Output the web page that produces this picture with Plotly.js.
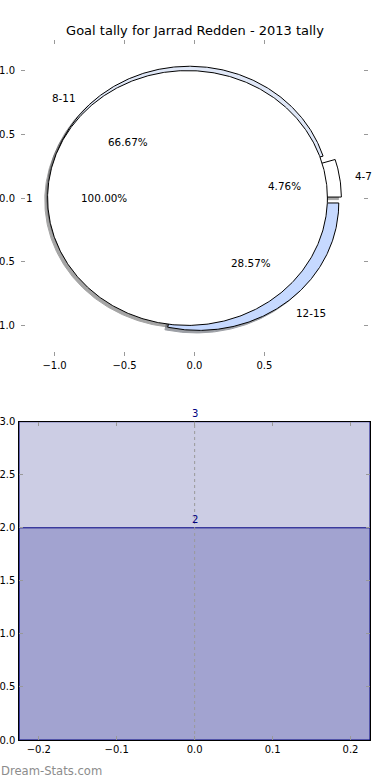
<!DOCTYPE html>
<html><head><meta charset="utf-8">
<script src="https://cdn.plot.ly/plotly-3.0.1.min.js"></script>
<style>html,body{margin:0;padding:0;background:#fff;} #chart{width:390px;height:780px;}</style>
</head><body><div id="chart"></div>
<script>
// ---- data ----
const chartTitle = 'Goal tally for Jarrad Redden - 2013 tally';
const outerLabels = ['4-7', '8-11', '12-15'];
const outerValues = [1, 14, 6];
const outerColors = ['#ffffff', '#dfe7f7', '#c6d9ff'];
const innerLabels = ['1'];
const innerValues = [1];
const innerColors = ['#ffffff'];
const barValues = [3, 2];
const barColors = ['#cccde4', '#a2a3d0'];
const pieXTicks = [-1, -0.5, 0, 0.5];
const pieYTicks = [-1, -0.5, 0, 0.5, 1];
const barXTicks = [-0.2, -0.1, 0, 0.1, 0.2];
const barYTicks = [0, 0.5, 1, 1.5, 2, 2.5, 3];
const watermark = 'Dream-Stats.com';

// ---- pie geometry (matplotlib-like: start 0deg, counter-clockwise, exploded) ----
const R = 1, EXPLODE = 0.05, LABEL_D = 1.1, PCT_D = 0.6, SHX = -0.02, SHY = -0.02;
const FONT = 'DejaVu Sans, Liberation Sans, sans-serif';

function pieGeom(labels, values, colors) {
  const tot = values.reduce((a, b) => a + b, 0);
  let cum = 0;
  return values.map((v, i) => {
    const t1 = cum / tot * 360; cum += v; const t2 = cum / tot * 360;
    const mid = (t1 + t2) / 2 * Math.PI / 180;
    return {
      label: labels[i], pct: (v / tot * 100).toFixed(2) + '%', color: colors[i],
      t1: t1, t2: t2, mid: mid,
      cx: EXPLODE * Math.cos(mid), cy: EXPLODE * Math.sin(mid),
      full: (t2 - t1) >= 359.999
    };
  });
}
function wedgeXY(g, dx, dy) {
  const xs = [], ys = [];
  const cx = g.cx + dx, cy = g.cy + dy;
  if (!g.full) { xs.push(cx); ys.push(cy); }
  const n = Math.max(4, Math.ceil((g.t2 - g.t1) / 0.5));
  for (let k = 0; k <= n; k++) {
    const a = (g.t1 + (g.t2 - g.t1) * k / n) * Math.PI / 180;
    xs.push(cx + R * Math.cos(a)); ys.push(cy + R * Math.sin(a));
  }
  if (!g.full) { xs.push(cx); ys.push(cy); }
  return { xs: xs, ys: ys };
}
function shade(hex) {
  const r = parseInt(hex.slice(1, 3), 16), g = parseInt(hex.slice(3, 5), 16), b = parseInt(hex.slice(5, 7), 16);
  return 'rgb(' + Math.round(r * 0.3) + ',' + Math.round(g * 0.3) + ',' + Math.round(b * 0.3) + ')';
}

const outer = pieGeom(outerLabels, outerValues, outerColors);
const inner = pieGeom(innerLabels, innerValues, innerColors);
const allWedges = outer.concat(inner);

const traces = [];
// shadows first (drawn below all wedges)
allWedges.forEach(g => {
  const p = wedgeXY(g, SHX, SHY);
  traces.push({
    type: 'scatter', mode: 'lines', x: p.xs, y: p.ys, xaxis: 'x', yaxis: 'y',
    fill: 'toself', fillcolor: shade(g.color), line: { color: shade(g.color), width: 1 },
    opacity: 0.5, hoverinfo: 'skip', showlegend: false
  });
});
// wedges
allWedges.forEach(g => {
  const p = wedgeXY(g, 0, 0);
  traces.push({
    type: 'scatter', mode: 'lines', x: p.xs, y: p.ys, xaxis: 'x', yaxis: 'y',
    fill: 'toself', fillcolor: g.color, line: { color: '#000000', width: 1 },
    hoverinfo: 'skip', showlegend: false, name: g.label
  });
});
// bars (overlaid, drawn in order)
barValues.forEach((v, i) => {
  traces.push({
    type: 'bar', x: [0], y: [v], width: 0.45, xaxis: 'x2', yaxis: 'y2',
    marker: { color: barColors[i], line: { color: '#000080', width: 1 } },
    hoverinfo: 'skip', showlegend: false
  });
});

const annotations = [];
allWedges.forEach(g => {
  const lx = g.cx + LABEL_D * R * Math.cos(g.mid), ly = g.cy + LABEL_D * R * Math.sin(g.mid);
  annotations.push({
    x: lx, y: ly, xref: 'x', yref: 'y', text: g.label, showarrow: false,
    xanchor: lx > 0 ? 'left' : 'right', yanchor: 'middle', borderpad: 0,
    font: { family: FONT, size: 10.4, color: '#000' }
  });
  const px = g.cx + PCT_D * R * Math.cos(g.mid), py = g.cy + PCT_D * R * Math.sin(g.mid);
  annotations.push({
    x: px, y: py, xref: 'x', yref: 'y', text: g.pct, showarrow: false,
    xanchor: 'center', yanchor: 'middle', borderpad: 0,
    font: { family: FONT, size: 10.4, color: '#000' }
  });
});
barValues.forEach(v => {
  annotations.push({
    x: 0, y: v, xref: 'x2', yref: 'y2', text: String(v), showarrow: false,
    xanchor: 'center', yanchor: 'bottom', yshift: 2, borderpad: 0,
    font: { family: FONT, size: 10, color: '#000080' }
  });
});
annotations.push({
  x: 0, y: 9 / 780, xref: 'paper', yref: 'paper', text: watermark, showarrow: false,
  xanchor: 'left', yanchor: 'middle', borderpad: 0,
  font: { family: FONT, size: 11.6, color: '#8c8c8c' }
});

const tickFont = { family: FONT, size: 10, color: '#000' };
const common = {
  ticks: 'inside', ticklen: 4, tickwidth: 1, tickcolor: '#999999',
  showgrid: false, zeroline: false, tickfont: tickFont, tickformat: '.1f', tickmode: 'array'
};

const layout = {
  width: 390, height: 780,
  margin: { l: 0, r: 0, t: 0, b: 0 },
  paper_bgcolor: '#ffffff', plot_bgcolor: 'rgba(0,0,0,0)',
  font: { family: FONT, color: '#000' },
  title: { text: chartTitle, font: { family: FONT, size: 13, color: '#000' },
           x: 0.5, xanchor: 'center', y: 1 - 30 / 780, yanchor: 'middle', yref: 'container' },
  showlegend: false,
  barmode: 'overlay',
  xaxis: Object.assign({}, common, {
    domain: [21 / 390, 368 / 390], range: [-1.24, 1.24], anchor: 'y', tickvals: pieXTicks,
    showline: true, linecolor: 'rgba(0,0,0,0)', mirror: 'ticks'
  }),
  yaxis: Object.assign({}, common, {
    domain: [1 - 356 / 780, 1 - 40 / 780], range: [-1.24, 1.24], anchor: 'x', tickvals: pieYTicks,
    showline: true, linecolor: 'rgba(0,0,0,0)', mirror: 'ticks', ticklabelstandoff: 3
  }),
  xaxis2: Object.assign({}, common, {
    domain: [19.3 / 390, 370 / 390], range: [-0.225, 0.225], anchor: 'y2', tickvals: barXTicks,
    showline: true, linecolor: '#000', linewidth: 1, mirror: 'allticks'
  }),
  yaxis2: Object.assign({}, common, {
    domain: [40 / 780, 1 - 421.7 / 780], range: [0, 3], anchor: 'x2', tickvals: barYTicks,
    showline: true, linecolor: '#000', linewidth: 1, mirror: 'allticks', ticklabelstandoff: 1
  }),
  shapes: [{
    type: 'line', xref: 'x2', yref: 'y2 domain', x0: 0, x1: 0, y0: 0, y1: 1,
    line: { color: '#999999', width: 1, dash: 'dot' }, layer: 'above'
  }],
  annotations: annotations
};

Plotly.newPlot('chart', traces, layout, { staticPlot: true, displayModeBar: false });
</script>
</body></html>
